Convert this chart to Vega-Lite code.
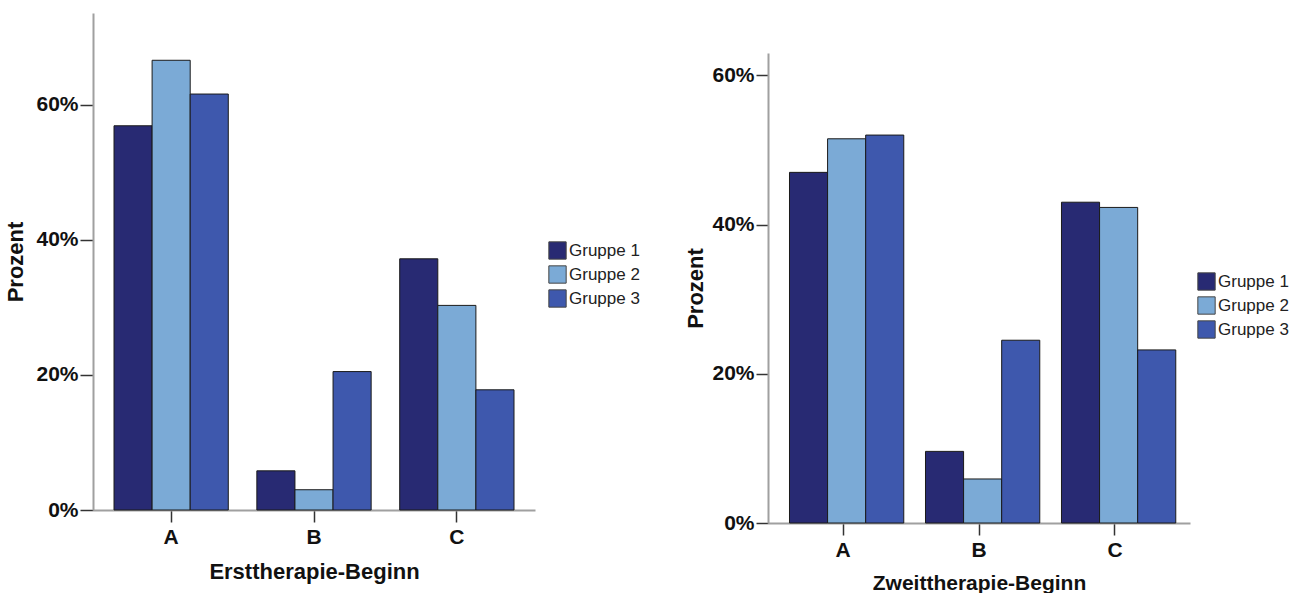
{
  "$schema": "https://vega.github.io/schema/vega-lite/v6.json",
  "background": "white",
  "padding": {"left": 4, "top": 13, "right": 0, "bottom": 0},
  "datasets": {
    "erst": [
      {"kategorie": "A", "gruppe": "Gruppe 1", "prozent": 0.569},
      {"kategorie": "A", "gruppe": "Gruppe 2", "prozent": 0.666},
      {"kategorie": "A", "gruppe": "Gruppe 3", "prozent": 0.616},
      {"kategorie": "B", "gruppe": "Gruppe 1", "prozent": 0.058},
      {"kategorie": "B", "gruppe": "Gruppe 2", "prozent": 0.030},
      {"kategorie": "B", "gruppe": "Gruppe 3", "prozent": 0.205},
      {"kategorie": "C", "gruppe": "Gruppe 1", "prozent": 0.372},
      {"kategorie": "C", "gruppe": "Gruppe 2", "prozent": 0.303},
      {"kategorie": "C", "gruppe": "Gruppe 3", "prozent": 0.178}
    ],
    "zweit": [
      {"kategorie": "A", "gruppe": "Gruppe 1", "prozent": 0.470},
      {"kategorie": "A", "gruppe": "Gruppe 2", "prozent": 0.515},
      {"kategorie": "A", "gruppe": "Gruppe 3", "prozent": 0.520},
      {"kategorie": "B", "gruppe": "Gruppe 1", "prozent": 0.096},
      {"kategorie": "B", "gruppe": "Gruppe 2", "prozent": 0.059},
      {"kategorie": "B", "gruppe": "Gruppe 3", "prozent": 0.245},
      {"kategorie": "C", "gruppe": "Gruppe 1", "prozent": 0.430},
      {"kategorie": "C", "gruppe": "Gruppe 2", "prozent": 0.423},
      {"kategorie": "C", "gruppe": "Gruppe 3", "prozent": 0.232}
    ]
  },
  "config": {
    "font": "Liberation Sans",
    "view": {"stroke": null},
    "axis": {
      "grid": false,
      "domainColor": "#a0a0a0",
      "domainWidth": 2,
      "tickColor": "#333333",
      "tickWidth": 1.5,
      "tickSize": 13,
      "labelFont": "Liberation Sans",
      "labelFontSize": 21,
      "labelFontWeight": "bold",
      "labelColor": "#111111",
      "titleFont": "Liberation Sans",
      "titleFontSize": 22,
      "titleFontWeight": "bold",
      "titleColor": "#111111"
    },
    "legend": {
      "title": null,
      "symbolType": "square",
      "symbolSize": 300,
      "symbolStrokeColor": "#444444",
      "symbolStrokeWidth": 1,
      "symbolOpacity": 1,
      "labelFont": "Liberation Sans",
      "labelFontSize": 17,
      "labelColor": "#222222",
      "labelOffset": 2,
      "rowPadding": 1
    }
  },
  "align": "none",
  "spacing": 44,
  "resolve": {"legend": {"color": "independent"}, "scale": {"y": "independent", "x": "independent"}},
  "hconcat": [
    {
      "width": 442,
      "height": 497,
      "data": {"name": "erst"},
      "mark": {"type": "bar", "stroke": "#1a1a1a", "strokeWidth": 1},
      "encoding": {
        "x": {
          "field": "kategorie", "type": "nominal",
          "scale": {"paddingInner": 0.2, "paddingOuter": 0.147},
          "axis": {"title": "Ersttherapie-Beginn", "labelAngle": 0, "tickSize": 12, "labelPadding": 4, "titlePadding": 14}
        },
        "xOffset": {"field": "gruppe", "type": "nominal", "scale": {"paddingInner": 0, "paddingOuter": 0}},
        "y": {
          "field": "prozent", "type": "quantitative",
          "scale": {"domain": [0, 0.736], "nice": false},
          "axis": {"title": "Prozent", "values": [0, 0.2, 0.4, 0.6], "format": ".0%", "labelPadding": 2, "titlePadding": 8}
        },
        "color": {
          "field": "gruppe", "type": "nominal",
          "scale": {"domain": ["Gruppe 1", "Gruppe 2", "Gruppe 3"], "range": ["#282a73", "#7baad6", "#3e58ad"]},
          "legend": {"orient": "none", "legendX": 455, "legendY": 228}
        }
      }
    },
    {
      "width": 422,
      "height": 510,
      "data": {"name": "zweit"},
      "mark": {"type": "bar", "stroke": "#1a1a1a", "strokeWidth": 1},
      "encoding": {
        "x": {
          "field": "kategorie", "type": "nominal",
          "scale": {"paddingInner": 0.213, "paddingOuter": 0.158},
          "axis": {"title": "Zweittherapie-Beginn", "titleFontSize": 21, "labelAngle": 0, "tickSize": 12, "labelPadding": 4, "titlePadding": 12}
        },
        "xOffset": {"field": "gruppe", "type": "nominal", "scale": {"paddingInner": 0, "paddingOuter": 0}},
        "y": {
          "field": "prozent", "type": "quantitative",
          "scale": {"domain": [0, 0.63], "nice": false, "range": [510, 40]},
          "axis": {"title": "Prozent", "values": [0, 0.2, 0.4, 0.6], "format": ".0%", "tickSize": 12, "labelPadding": 2, "titlePadding": 4}
        },
        "color": {
          "field": "gruppe", "type": "nominal",
          "scale": {"domain": ["Gruppe 1", "Gruppe 2", "Gruppe 3"], "range": ["#282a73", "#7baad6", "#3e58ad"]},
          "legend": {"orient": "none", "legendX": 429, "legendY": 259}
        }
      }
    }
  ]
}
